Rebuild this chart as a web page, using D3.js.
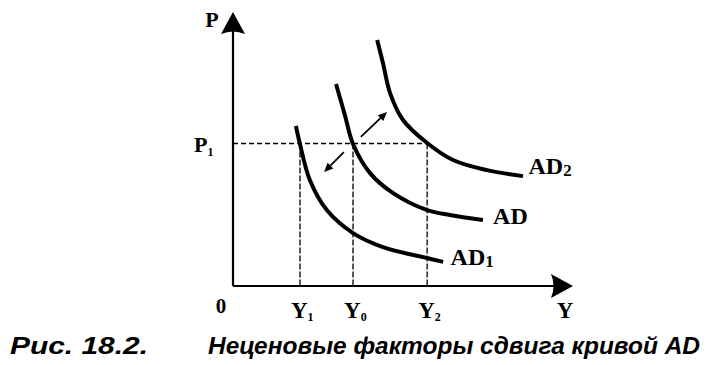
<!DOCTYPE html>
<html><head><meta charset="utf-8">
<script src="https://cdn.jsdelivr.net/npm/d3@7"></script>
<style>body{margin:0;background:#fff}svg{display:block}</style>
</head><body>
<svg id="c" width="707" height="365"></svg>
<script>
// Curves (model units)
const curveAD2 = [[42.4,89.8],[44.1,81.4],[46.2,70.4],[50,60.6],[57.1,52.2],[64.7,46],[74.7,42.3],[85.3,40.1]];
const curveAD  = [[30.3,73.7],[32.9,62.4],[35.3,51.8],[40.3,41.2],[47.1,33.9],[57.1,27.7],[63.8,25.9],[73.5,24.1]];
const curveAD1 = [[18.5,58.4],[19.7,51.8],[22.6,38.7],[27.6,27.7],[35.3,19.3],[44.1,14.2],[57.1,10.2],[61.8,8.8]];
const curveLabels = [["AD","2"],["AD",""],["AD","1"]];
const labelPos = [[86.9,41],[76.5,22.5],[64,7.5]];
const yTicks = [19.7, 35.3, 57.1];
const yTickLabels = [["Y","1"],["Y","0"],["Y","2"]];
const pLevel = 52;
const pLabel = ["P","1"];
const shiftArrows = [[[37.6,54.4],[45.3,63.5]],[[32.6,48.9],[26.8,41.6]]];
const captionLeft = "Рис. 18.2.";
const captionRight = "Неценовые факторы сдвига кривой AD";

const svg = d3.select("#c");
const x = d3.scaleLinear().domain([0,100]).range([233,573]);
const y = d3.scaleLinear().domain([0,100]).range([286,12]);
const serif = "'Liberation Serif','Times New Roman',serif";

// dashed guides
svg.append("line").attr("x1",x(0)).attr("x2",x(yTicks[2])).attr("y1",y(pLevel)).attr("y2",y(pLevel))
  .attr("stroke","#000").attr("stroke-width",1.6).attr("stroke-dasharray","5,3");
yTicks.forEach(t=>{
  svg.append("line").attr("x1",x(t)).attr("x2",x(t)).attr("y1",y(pLevel)).attr("y2",y(0))
    .attr("stroke","#000").attr("stroke-width",1.3).attr("stroke-dasharray","6,2");
});

// axes
svg.append("line").attr("x1",x(0)).attr("x2",x(0)).attr("y1",y(0)).attr("y2",y(100)+14)
  .attr("stroke","#000").attr("stroke-width",2.2);
svg.append("line").attr("x1",x(0)).attr("x2",x(100)-14).attr("y1",y(0)).attr("y2",y(0))
  .attr("stroke","#000").attr("stroke-width",2.2);
const tipY = [x(0), y(100)];
svg.append("path").attr("d",`M${tipY[0]},${tipY[1]} L${tipY[0]+12},${tipY[1]+22} Q${tipY[0]},${tipY[1]+17} ${tipY[0]-12},${tipY[1]+22} Z`).attr("fill","#000");
const tipX = [x(100), y(0)];
svg.append("path").attr("d",`M${tipX[0]},${tipX[1]} L${tipX[0]-22},${tipX[1]-12} Q${tipX[0]-17},${tipX[1]} ${tipX[0]-22},${tipX[1]+12} Z`).attr("fill","#000");

// curves
const line = d3.line().x(d=>x(d[0])).y(d=>y(d[1])).curve(d3.curveCatmullRom.alpha(0.5));
[curveAD2, curveAD, curveAD1].forEach(c=>{
  svg.append("path").attr("d",line(c)).attr("fill","none").attr("stroke","#000").attr("stroke-width",4);
});

// shift arrows
shiftArrows.forEach(([a,b])=>{
  const x1=x(a[0]), y1=y(a[1]), x2=x(b[0]), y2=y(b[1]);
  const ang=Math.atan2(y2-y1,x2-x1);
  const L=9, W=4;
  const bx=x2-L*Math.cos(ang), by=y2-L*Math.sin(ang);
  svg.append("line").attr("x1",x1).attr("y1",y1).attr("x2",bx).attr("y2",by).attr("stroke","#000").attr("stroke-width",1.8);
  svg.append("path").attr("d",`M${x2},${y2} L${bx-W*Math.sin(ang)},${by+W*Math.cos(ang)} L${bx+W*Math.sin(ang)},${by-W*Math.cos(ang)} Z`).attr("fill","#000");
});

// labels helper
function sublabel(px,py,main,sub,size,subSize,dy){
  const t=svg.append("text").attr("x",px).attr("y",py).attr("font-family",serif).attr("font-weight","bold").attr("font-size",size);
  t.append("tspan").text(main);
  if(sub) t.append("tspan").attr("font-size",subSize).attr("dy",dy).text(sub);
  return t;
}
curveLabels.forEach((l,i)=>{
  sublabel(x(labelPos[i][0]), y(labelPos[i][1]), l[0], l[1], 24, 17, 2);
});
yTicks.forEach((t,i)=>{
  sublabel(x(t)-9, 318, yTickLabels[i][0], yTickLabels[i][1], 23, 12, 3);
});
svg.append("text").attr("x",221).attr("y",313).attr("text-anchor","middle").attr("font-family",serif).attr("font-weight","bold").attr("font-size",21).text("0");
svg.append("text").attr("x",565).attr("y",318).attr("text-anchor","middle").attr("font-family",serif).attr("font-weight","bold").attr("font-size",23).text("Y");
svg.append("text").attr("x",212).attr("y",27).attr("text-anchor","middle").attr("font-family",serif).attr("font-weight","bold").attr("font-size",22).text("P");
sublabel(194, y(pLevel)+8, pLabel[0], pLabel[1], 22, 12, 4);

// caption
const capFont="'Liberation Sans Narrow','Liberation Sans',Arial,sans-serif";
svg.append("text").attr("x",10).attr("y",354).attr("font-family",capFont).attr("font-weight","bold").attr("font-style","italic")
  .attr("font-size",24).attr("textLength",138).attr("lengthAdjust","spacingAndGlyphs").text(captionLeft);
svg.append("text").attr("x",208).attr("y",354).attr("font-family",capFont).attr("font-weight","bold").attr("font-style","italic")
  .attr("font-size",24).attr("textLength",492).attr("lengthAdjust","spacingAndGlyphs").text(captionRight);
</script>
</body></html>
